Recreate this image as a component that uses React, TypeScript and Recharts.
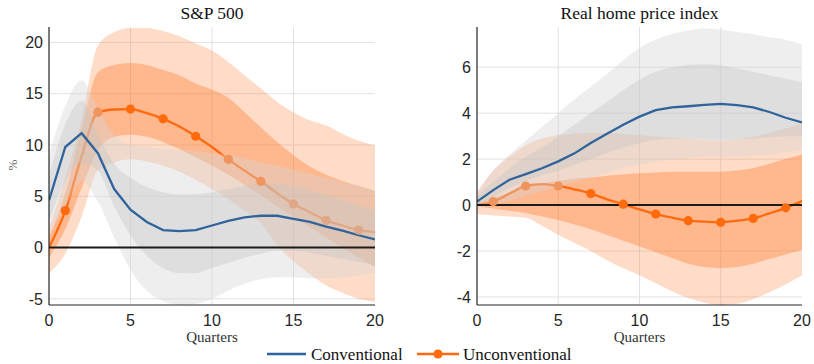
import React from 'react';
import { ComposedChart, Area, Line, XAxis, YAxis, CartesianGrid, ReferenceLine } from 'recharts';

const quarters = [0, 1, 2, 3, 4, 5, 6, 7, 8, 9, 10, 11, 12, 13, 14, 15, 16, 17, 18, 19, 20];
const xTicks = [0, 5, 10, 15, 20];

// S&P 500 panel
const spTicks = [-5, 0, 5, 10, 15, 20];
const spConv = [4.6, 9.8, 11.15, 9.2, 5.7, 3.7, 2.5, 1.7, 1.6, 1.7, 2.15, 2.6, 2.95, 3.1, 3.1, 2.8, 2.5, 2.05, 1.65, 1.2, 0.8];
const spUnconv = [0, 3.6, 8.9, 13.2, 13.46, 13.5, 13.1, 12.55, 11.8, 10.85, 9.8, 8.6, 7.5, 6.45, 5.3, 4.25, 3.45, 2.65, 2.15, 1.7, 1.5];
const spUncOuterHi = [1.8, 6.8, 12.5, 19.7, 21.0, 21.4, 21.4, 21.1, 20.6, 19.9, 19.2, 18.1, 16.8, 15.5, 14.2, 13.2, 12.4, 11.9, 11.1, 10.4, 9.95];
const spUncOuterLo = [-2.5, -0.6, 3.0, 7.5, 8.3, 8.6, 8.4, 8.0, 7.4, 6.6, 5.7, 4.7, 3.6, 2.4, 0.2, -1.3, -2.6, -3.7, -4.4, -5.0, -5.3];
const spUncInnerHi = [1.0, 5.3, 11.5, 17.1, 17.8, 18.0, 17.8, 17.3, 16.8, 16.0, 15.4, 14.6, 13.2, 11.7, 10.3, 9.0, 7.9, 7.1, 6.5, 6.0, 5.5];
const spUncInnerLo = [-1.0, 1.8, 5.8, 9.5, 10.8, 11.0, 10.8, 10.3, 9.6, 8.8, 8.0, 7.1, 6.1, 5.1, 4.0, 3.0, 2.0, 1.0, 0.0, -1.0, -1.9];
const spConvOuterHi = [9.0, 13.8, 16.3, 13.5, 11.0, 10.0, 9.8, 9.6, 9.5, 9.4, 9.2, 9.0, 8.7, 8.3, 8.0, 7.6, 7.2, 6.8, 6.4, 6.0, 5.6];
const spConvOuterLo = [1.5, 4.0, 6.5, 4.5, 1.0, -2.2, -4.2, -5.2, -5.6, -5.5, -5.0, -4.2, -3.5, -3.1, -2.9, -2.9, -3.0, -3.0, -2.9, -2.7, -2.5];
const spConvInnerHi = [7.0, 12.0, 14.3, 11.0, 8.2, 6.8, 5.9, 5.4, 5.2, 5.2, 5.4, 5.7, 6.0, 6.2, 6.2, 6.0, 5.6, 5.1, 4.6, 4.1, 3.6];
const spConvInnerLo = [2.5, 6.5, 8.3, 7.5, 4.0, 1.2, -0.8, -2.0, -2.5, -2.5, -2.0, -1.5, -1.0, -0.6, -0.3, -0.3, -0.5, -0.8, -1.1, -1.4, -1.7];

// Real home price index panel
const hpTicks = [-4, -2, 0, 2, 4, 6];
const hpConv = [0.15, 0.65, 1.1, 1.35, 1.6, 1.9, 2.25, 2.7, 3.1, 3.5, 3.85, 4.13, 4.25, 4.3, 4.36, 4.4, 4.35, 4.25, 4.05, 3.8, 3.6];
const hpUnconv = [0, 0.15, 0.5, 0.83, 0.91, 0.83, 0.68, 0.5, 0.25, 0.04, -0.19, -0.39, -0.55, -0.68, -0.72, -0.75, -0.68, -0.58, -0.36, -0.12, 0.17];
const hpUncOuterHi = [0.5, 1.5, 2.1, 2.6, 2.9, 3.05, 3.12, 3.15, 3.13, 3.1, 3.05, 2.97, 2.93, 2.9, 2.85, 2.83, 2.85, 2.97, 3.15, 3.33, 3.56];
const hpUncOuterLo = [-0.4, -0.45, -0.5, -0.55, -0.9, -1.3, -1.65, -2.0, -2.4, -2.75, -3.05, -3.4, -3.75, -4.05, -4.25, -4.35, -4.3, -4.1, -3.8, -3.45, -3.05];
const hpUncInnerHi = [0.1, 0.3, 0.55, 0.8, 0.95, 1.05, 1.15, 1.2, 1.28, 1.33, 1.38, 1.42, 1.45, 1.45, 1.45, 1.45, 1.5, 1.6, 1.8, 2.0, 2.2];
const hpUncInnerLo = [-0.05, -0.15, -0.25, -0.35, -0.5, -0.65, -0.85, -1.05, -1.3, -1.55, -1.8, -2.05, -2.3, -2.55, -2.7, -2.75, -2.7, -2.55, -2.35, -2.15, -1.95];
const hpConvOuterHi = [0.6, 1.5, 2.2, 2.8, 3.4, 4.0, 4.6, 5.15, 5.7, 6.3, 6.85, 7.2, 7.45, 7.6, 7.7, 7.64, 7.53, 7.43, 7.3, 7.2, 7.0];
const hpConvOuterLo = [-0.2, 0.0, 0.2, 0.4, 0.6, 0.8, 1.0, 1.2, 1.4, 1.6, 1.75, 1.9, 2.0, 2.05, 2.1, 2.1, 2.1, 2.15, 2.2, 2.3, 2.4];
const hpConvInnerHi = [0.4, 1.0, 1.6, 2.1, 2.5, 3.0, 3.5, 4.0, 4.5, 5.0, 5.45, 5.8, 6.0, 6.1, 6.13, 6.09, 5.95, 5.8, 5.65, 5.5, 5.36];
const hpConvInnerLo = [0, 0.35, 0.75, 1.05, 1.3, 1.5, 1.75, 2.0, 2.25, 2.5, 2.7, 2.85, 2.9, 2.9, 2.88, 2.85, 2.85, 2.9, 2.95, 3.0, 3.0];

const BLUE = '#2f639c';
const ORANGE = '#ff6a0d';
const ORANGE_FADED1 = '#ee945d';
const ORANGE_FADED2 = '#dea887';
const ORANGE_BAND = '#ff7828';
const GRAY_OUTER = '#d4d4d4';
const GRAY_INNER = '#c6c6c6';
const AXIS = '#262626';
const TICK_FONT = '"Liberation Sans", Arial, sans-serif';
const SERIF = '"Liberation Serif", "Times New Roman", serif';

type PanelProps = {
  conv: number[]; unconv: number[];
  uoh: number[]; uol: number[]; uih: number[]; uil: number[];
  coh: number[]; col: number[]; cih: number[]; cil: number[];
  domain: [number, number]; yTicks: number[];
  width: number; marginRight: number;
};

const inside = (v: number, r: number[]) => v >= r[0] && v <= r[1];

// marker on odd quarters; drawn with the colour it gets under the grey bands
const OddDot = (props: any) => {
  const { cx, cy, index, payload } = props;
  if (index % 2 === 1 && payload) {
    const v = payload.unconv;
    const layers = (inside(v, payload.cOuter) ? 1 : 0) + (inside(v, payload.cInner) ? 1 : 0);
    const fill = layers === 0 ? ORANGE : layers === 1 ? ORANGE_FADED1 : ORANGE_FADED2;
    return <circle key={`d${index}`} cx={cx} cy={cy} r={4.6} fill={fill} stroke="none" />;
  }
  return <g key={`d${index}`} />;
};

function Panel(p: PanelProps) {
  const data = quarters.map((q, i) => ({
    q,
    conv: p.conv[i],
    unconv: p.unconv[i],
    uOuter: [p.uol[i], p.uoh[i]],
    uInner: [p.uil[i], p.uih[i]],
    cOuter: [p.col[i], p.coh[i]],
    cInner: [p.cil[i], p.cih[i]],
  }));
  const tickStyle = { fontFamily: TICK_FONT, fontSize: 16, fill: AXIS };
  const empty = () => '';
  return (
    <ComposedChart width={p.width} height={340} data={data}
      margin={{ top: 27, right: p.marginRight, bottom: 0, left: 0 }}>
      <CartesianGrid stroke="#e2e2e2" strokeWidth={1} verticalValues={[5, 10, 15]} horizontalValues={p.yTicks} />
      <XAxis dataKey="q" type="number" domain={[0, 20]} ticks={xTicks} allowDataOverflow
        height={35} tickLine={false} tickSize={4} tickMargin={6} axisLine={{ stroke: AXIS, strokeWidth: 1.2 }} tick={tickStyle} />
      <XAxis xAxisId="b2" type="number" domain={[0, 20]} ticks={xTicks} mirror height={0}
        tickSize={4} tickFormatter={empty} axisLine={false} tickLine={{ stroke: AXIS }} />
      <XAxis xAxisId="top" orientation="top" type="number" domain={[0, 20]} ticks={xTicks} mirror height={0}
        tickSize={4} tickFormatter={empty} axisLine={{ stroke: AXIS, strokeWidth: 1.2 }} tickLine={{ stroke: AXIS }} />
      <YAxis type="number" domain={p.domain} ticks={p.yTicks} allowDataOverflow width={49}
        tickLine={false} tickSize={4} tickMargin={2} axisLine={{ stroke: AXIS, strokeWidth: 1.2 }} tick={tickStyle} />
      <YAxis yAxisId="l2" type="number" domain={p.domain} ticks={p.yTicks} mirror width={0}
        tickSize={4} tickFormatter={empty} axisLine={false} tickLine={{ stroke: AXIS }} />
      <YAxis yAxisId="right" orientation="right" type="number" domain={p.domain} ticks={p.yTicks} mirror width={0}
        tickSize={4} tickFormatter={empty} axisLine={{ stroke: AXIS, strokeWidth: 1.2 }} tickLine={{ stroke: AXIS }} />
      <Area dataKey="uOuter" type="monotone" stroke="none" fill={ORANGE_BAND} fillOpacity={0.26} isAnimationActive={false} activeDot={false} />
      <Area dataKey="uInner" type="monotone" stroke="none" fill={ORANGE_BAND} fillOpacity={0.36} isAnimationActive={false} activeDot={false} />
      <Area dataKey="unconv" type="monotone" stroke={ORANGE} strokeWidth={2.3} fill="none" fillOpacity={0} dot={OddDot} activeDot={false} isAnimationActive={false} />
      <Area dataKey="cOuter" type="monotone" stroke="none" fill={GRAY_OUTER} fillOpacity={0.4} isAnimationActive={false} activeDot={false} />
      <Area dataKey="cInner" type="monotone" stroke="none" fill={GRAY_INNER} fillOpacity={0.4} isAnimationActive={false} activeDot={false} />
      <ReferenceLine y={0} stroke="#1a1a1a" strokeWidth={2} />
      <Line dataKey="conv" type="linear" stroke={BLUE} strokeWidth={2.3} dot={false} activeDot={false} isAnimationActive={false} />
    </ComposedChart>
  );
}

export default function App() {
  return (
    <div style={{ position: 'absolute', left: 0, top: 0, width: 814, height: 364, background: '#fff', overflow: 'hidden' }}>
      <div style={{ position: 'absolute', left: 0, top: 0 }}>
        <Panel conv={spConv} unconv={spUnconv} uoh={spUncOuterHi} uol={spUncOuterLo} uih={spUncInnerHi} uil={spUncInnerLo}
          coh={spConvOuterHi} col={spConvOuterLo} cih={spConvInnerHi} cil={spConvInnerLo}
          domain={[-5.6, 21.5]} yTicks={spTicks} width={390} marginRight={15} />
      </div>
      <div style={{ position: 'absolute', left: 428, top: 0 }}>
        <Panel conv={hpConv} unconv={hpUnconv} uoh={hpUncOuterHi} uol={hpUncOuterLo} uih={hpUncInnerHi} uil={hpUncInnerLo}
          coh={hpConvOuterHi} col={hpConvOuterLo} cih={hpConvInnerHi} cil={hpConvInnerLo}
          domain={[-4.35, 7.75]} yTicks={hpTicks} width={388} marginRight={14} />
      </div>
      <svg width={814} height={364} style={{ position: 'absolute', left: 0, top: 0, pointerEvents: 'none' }}>
        <text x={212} y={19} textAnchor="middle" fontFamily={SERIF} fontSize={17.5} fill="#111">S&amp;P 500</text>
        <text x={639.5} y={19} textAnchor="middle" fontFamily={SERIF} fontSize={17.5} fill="#111">Real home price index</text>
        <text x={212} y={342} textAnchor="middle" fontFamily={SERIF} fontSize={15} fill="#333">Quarters</text>
        <text x={639.5} y={342} textAnchor="middle" fontFamily={SERIF} fontSize={15} fill="#333">Quarters</text>
        <text x={17} y={165} textAnchor="middle" fontFamily={SERIF} fontSize={13} fill="#666" transform="rotate(-90 17 165)">%</text>
        <line x1={267} y1={354} x2={306} y2={354} stroke={BLUE} strokeWidth={2.5} />
        <text x={311} y={360} fontFamily={SERIF} fontSize={17} fill="#111">Conventional</text>
        <line x1={417} y1={354} x2={459} y2={354} stroke={ORANGE} strokeWidth={2.5} />
        <circle cx={438} cy={354} r={4.6} fill={ORANGE} />
        <text x={463} y={360} fontFamily={SERIF} fontSize={17} fill="#111">Unconventional</text>
      </svg>
    </div>
  );
}
